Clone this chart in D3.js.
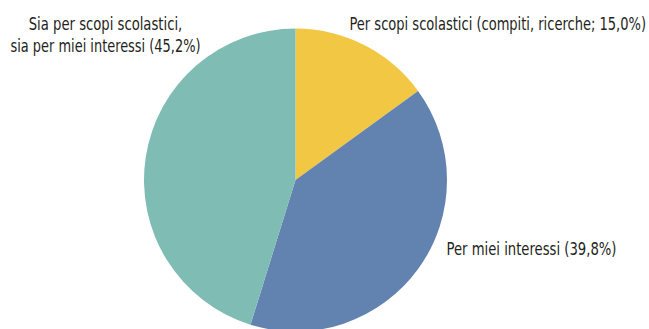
<!DOCTYPE html>
<html>
<head>
<meta charset="utf-8">
<script src="https://cdn.jsdelivr.net/npm/d3@7"></script>
<style>
  html, body { margin: 0; padding: 0; background: #fff; }
  svg { display: block; }
  text { font-family: "Liberation Sans Narrow", "DejaVu Sans Condensed", "Roboto Condensed", sans-serif; font-stretch: condensed; fill: #231f20; }
</style>
</head>
<body>
<svg id="chart" width="649" height="329"></svg>
<script>
// Uso di Internet: motivazioni (quote percentuali)
const categories = [
  "Per scopi scolastici (compiti, ricerche; 15,0%)",
  "Per miei interessi (39,8%)",
  "Sia per scopi scolastici, sia per miei interessi (45,2%)"
];
const values = [15.0, 39.8, 45.2];
const colors = ["#f2c744", "#6283b0", "#7fbdb4"];
const labelLines = [
  ["Per scopi scolastici (compiti, ricerche; 15,0%)"],
  ["Per miei interessi (39,8%)"],
  ["Sia per scopi scolastici,", "sia per miei interessi (45,2%)"]
];

const width = 649, height = 329;
const cx = 295.5, cy = 180, radius = 151.5;

const svg = d3.select("#chart");
const g = svg.append("g").attr("transform", `translate(${cx},${cy})`);

const data = categories.map((c, i) => ({ name: c, value: values[i], color: colors[i], lines: labelLines[i] }));

const pie = d3.pie().value(d => d.value).sort(null);
const arc = d3.arc().innerRadius(0).outerRadius(radius);

const arcs = pie(data);

g.selectAll("path.slice")
  .data(arcs)
  .join("path")
  .attr("class", "slice")
  .attr("d", arc)
  .attr("fill", d => d.data.color);

// Label placement: anchor, offset from centre, and target width per label
const labelLayout = [
  { x: 349.5, y: 30, anchor: "start", widths: [296.5] },
  { x: 446.5, y: 255, anchor: "start", widths: [170] },
  { x: 105.5, y: 30, anchor: "middle", widths: [153.5, 190] }
];
const lineHeight = 21.5;
const fontSize = 17;

const labels = svg.selectAll("g.label")
  .data(arcs)
  .join("g")
  .attr("class", "label");

labels.each(function(d, i) {
  const L = labelLayout[i];
  d3.select(this).selectAll("text")
    .data(d.data.lines)
    .join("text")
    .attr("x", L.x)
    .attr("y", (t, j) => L.y + j * lineHeight)
    .attr("text-anchor", L.anchor)
    .attr("font-size", fontSize)
    .attr("textLength", (t, j) => L.widths[j])
    .attr("lengthAdjust", "spacingAndGlyphs")
    .text(t => t);
});
</script>
</body>
</html>
